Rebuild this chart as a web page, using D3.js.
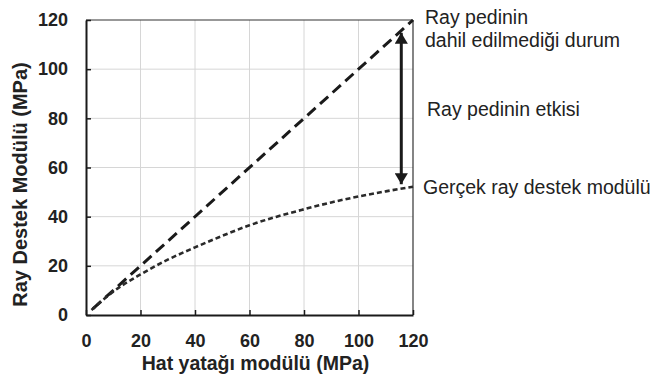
<!DOCTYPE html>
<html><head><meta charset="utf-8">
<script src="https://cdn.jsdelivr.net/npm/d3@7"></script>
<style>body{margin:0;background:#fff}svg{display:block}</style>
</head><body>
<svg id="c" width="655" height="376"></svg>
<script>
const xTicks = [0, 20, 40, 60, 80, 100, 120];
const yTicks = [0, 20, 40, 60, 80, 100, 120];
const withoutPadX = [2.5, 120];
const withoutPadY = [2.5, 120];
const actualX = [2, 10, 20, 30, 40, 50, 60, 70, 80, 90, 100, 110, 120];
const actualY = [2, 9.5, 16.5, 22.5, 27.5, 32.2, 36.5, 40, 43, 45.8, 48.2, 50.3, 52.2];
const arrowX = 115.7;
const arrowTop = 114.8;
const arrowBottom = 53.2;
const labels = ["Ray pedinin", "dahil edilmediği durum", "Ray pedinin etkisi", "Gerçek ray destek modülü"];
const xTitle = "Hat yatağı modülü (MPa)";
const yTitle = "Ray Destek Modülü (MPa)";

const svg = d3.select("#c");
const L = 86, R = 413, T = 20, B = 315;
const x = d3.scaleLinear().domain([0, 120]).range([L, R]);
const y = d3.scaleLinear().domain([0, 120]).range([B, T]);
const ink = "#1a1a1a";

svg.append("defs").append("marker").attr("id", "ah")
  .attr("viewBox", "0 0 10 12").attr("refX", 10).attr("refY", 6)
  .attr("markerWidth", 4).attr("markerHeight", 4.4).attr("orient", "auto-start-reverse")
  .attr("markerUnits", "strokeWidth")
  .append("path").attr("d", "M0,0L10,6L0,12Z").attr("fill", ink);

// grid
svg.append("g").selectAll("line").data(xTicks.slice(1, -1)).join("line")
  .attr("x1", d => x(d)).attr("x2", d => x(d)).attr("y1", T).attr("y2", B)
  .attr("stroke", "#d6d6d6").attr("stroke-width", 1);
svg.append("g").selectAll("line").data(yTicks.slice(1, -1)).join("line")
  .attr("y1", d => y(d)).attr("y2", d => y(d)).attr("x1", L).attr("x2", R)
  .attr("stroke", "#d6d6d6").attr("stroke-width", 1);

// frame top/right
svg.append("line").attr("x1", L).attr("x2", R).attr("y1", T).attr("y2", T).attr("stroke", "#333").attr("stroke-width", 1.2);
svg.append("line").attr("x1", R).attr("x2", R).attr("y1", T).attr("y2", B).attr("stroke", "#333").attr("stroke-width", 1.2);

// axes
const fontTick = "'Liberation Sans', Arial, sans-serif";
const xa = svg.append("g").attr("transform", `translate(0,${B})`)
  .call(d3.axisBottom(x).tickValues(xTicks).tickSize(-5).tickPadding(19).tickSizeOuter(0));
const ya = svg.append("g").attr("transform", `translate(${L},0)`)
  .call(d3.axisLeft(y).tickValues(yTicks).tickSize(-5).tickPadding(18).tickSizeOuter(0));
[xa, ya].forEach(g => {
  g.select(".domain").attr("stroke", ink).attr("stroke-width", 2);
  g.selectAll(".tick line").attr("stroke", ink).attr("stroke-width", 1.5);
  g.selectAll(".tick text").attr("fill", "#222").attr("font-size", 18).attr("font-weight", "bold").attr("font-family", fontTick);
});

// lines
const line = d3.line().x(d => x(d[0])).y(d => y(d[1]));
svg.append("path").datum(d3.zip(withoutPadX, withoutPadY)).attr("d", line)
  .attr("fill", "none").attr("stroke", ink).attr("stroke-width", 3).attr("stroke-dasharray", "11,6");
svg.append("path").datum(d3.zip(actualX, actualY)).attr("d", line.curve(d3.curveMonotoneX))
  .attr("fill", "none").attr("stroke", "#2a2a2a").attr("stroke-width", 2.6).attr("stroke-dasharray", "5,3");

// arrow
svg.append("line").attr("x1", x(arrowX)).attr("x2", x(arrowX)).attr("y1", y(arrowTop)).attr("y2", y(arrowBottom))
  .attr("stroke", ink).attr("stroke-width", 3)
  .attr("marker-start", "url(#ah)").attr("marker-end", "url(#ah)");

// annotations
const fAnn = "'Liberation Sans', Arial, sans-serif";
const ann = svg.append("g").attr("font-family", fAnn).attr("font-size", 19.5).attr("fill", "#222");
ann.append("text").attr("x", R + 12).attr("y", y(120) + 4).text(labels[0]);
ann.append("text").attr("x", R + 12).attr("y", y(120) + 27).text(labels[1]);
ann.append("text").attr("x", R + 14).attr("y", y(84) + 7).text(labels[2]);
ann.append("text").attr("x", R + 10).attr("y", y(actualY[actualY.length - 1]) + 7).text(labels[3]);

// titles
svg.append("text").attr("x", (L + R) / 2 + 6).attr("y", 369.5).attr("text-anchor", "middle")
  .attr("font-family", fontTick).attr("font-weight", "bold").attr("font-size", 19.5).attr("fill", "#222").text(xTitle);
svg.append("text").attr("transform", `translate(27,${(T + B) / 2 + 17}) rotate(-90)`).attr("text-anchor", "middle")
  .attr("font-family", fontTick).attr("font-weight", "bold").attr("font-size", 20).attr("fill", "#222").text(yTitle);
</script>
</body></html>
